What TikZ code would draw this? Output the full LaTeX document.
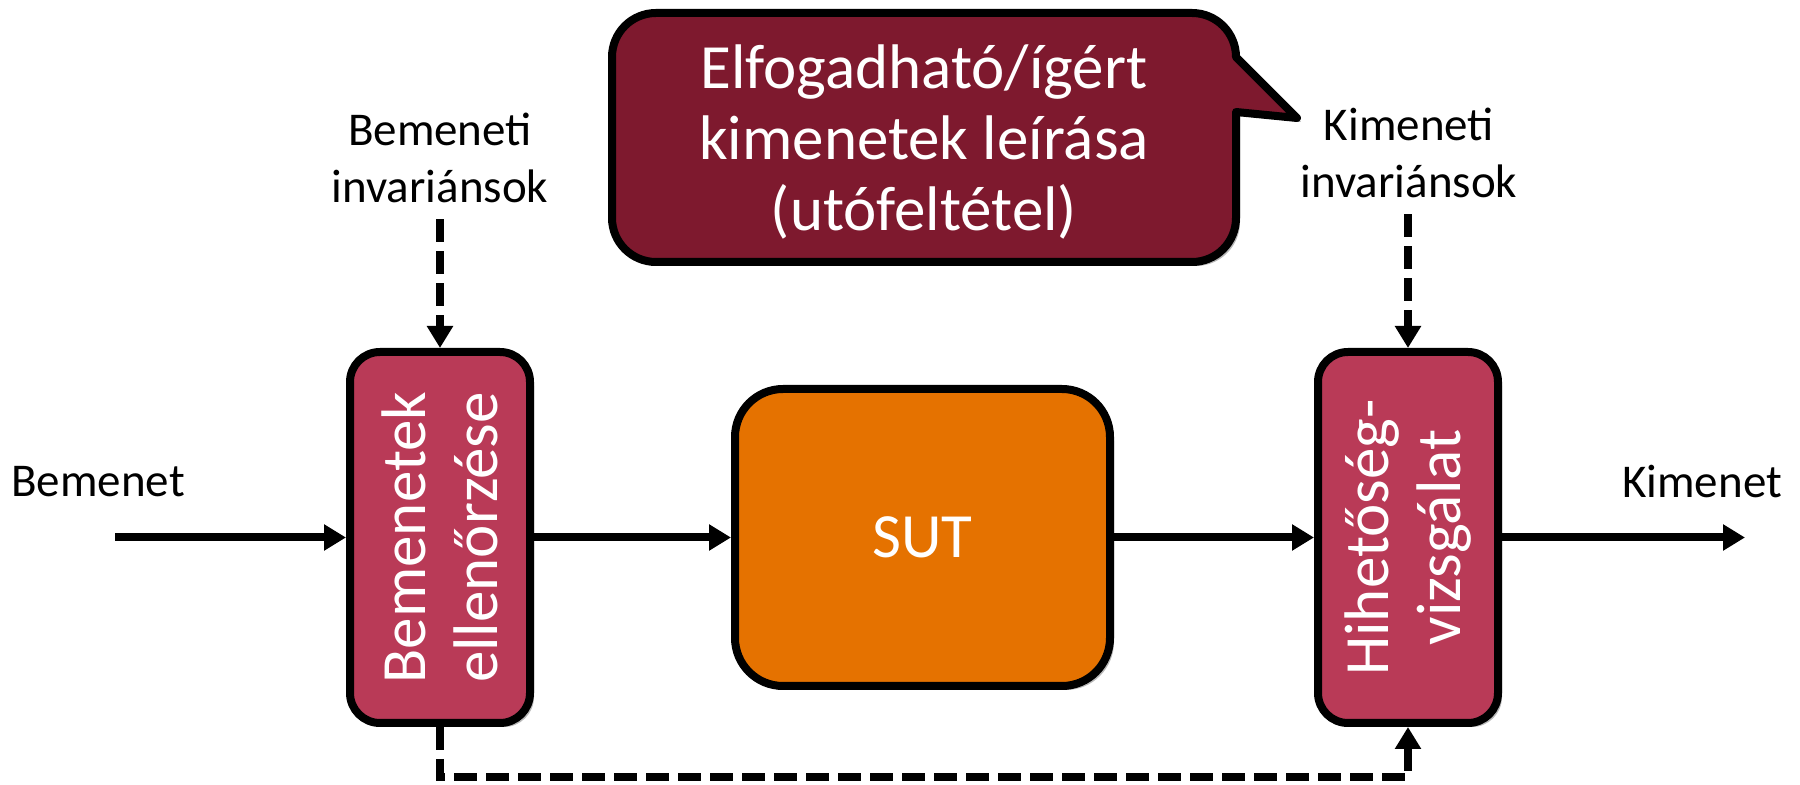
\documentclass[tikz,border=0pt]{standalone}
\usepackage{fontspec}
\setmainfont{Carlito}
\usetikzlibrary{arrows.meta,shadows}
\definecolor{calloutred}{RGB}{126,25,46}
\definecolor{boxred}{RGB}{185,58,87}
\definecolor{sutorange}{RGB}{229,114,0}
\begin{document}
\begin{tikzpicture}[x=0.5pt,y=-0.5pt,
  shad/.style={drop shadow={shadow xshift=2pt,shadow yshift=-2pt,opacity=0.28,fill=black}},
  blockbox/.style={draw=black,line width=4pt,fill=boxred,rounded corners=15pt,
    minimum width=90pt,minimum height=185.5pt,inner sep=0pt,shad},
  sutbox/.style={draw=black,line width=4pt,fill=sutorange,rounded corners=24pt,
    minimum width=187.5pt,minimum height=148.5pt,inner sep=0pt,shad},
  bigtext/.style={text=white,font=\fontsize{31.5pt}{36pt}\selectfont,align=center,inner sep=0pt},
  calltext/.style={text=white,font=\fontsize{31.5pt}{35.5pt}\selectfont,align=center,inner sep=0pt},
  lbl/.style={text=black,font=\fontsize{23.5pt}{28.5pt}\selectfont,align=center,inner sep=0pt},
  arr/.style={line width=4pt,-{Triangle[length=11pt,width=12.5pt]}},
  dasharr/.style={arr,dash pattern=on 11.5pt off 4.5pt}
]
\useasboundingbox (0,0) rectangle (1800,785);

% callout
\path[draw=black,line width=4pt,fill=calloutred,line join=round,shad]
  (656,13) -- (1192,13) arc[start angle=90,end angle=0,radius=22pt]
  -- (1297,118) -- (1236,112) -- (1236,218)
  arc[start angle=0,end angle=-90,radius=22pt] -- (656,262)
  arc[start angle=-90,end angle=-180,radius=22pt] -- (612,57)
  arc[start angle=180,end angle=90,radius=22pt] -- cycle;
\node[calltext] (ctext) at (924,142) {Elfogadható/ígért\\kimenetek leírása\\(utófeltétel)};

% blocks
\node[blockbox] (lbox) at (440,537.5) {};
\node[bigtext,rotate=90] (ltext) at (lbox.center) {Bemenetek\\ellenőrzése};
\node[sutbox] (sut) at (922.5,537.5) {};
\node[bigtext] (suttext) at (sut.center) {SUT};
\node[blockbox] (rbox) at (1408,537.5) {};
\node[bigtext,rotate=90] (rtext) at (rbox.center) {Hihetőség-\\vizsgálat};

% labels
\node[lbl] (bemin) at (440,158) {Bemeneti\\invariánsok};
\node[lbl] (kimin) at (1409,153) {Kimeneti\\invariánsok};
\node[lbl] (bemenet) at (98,482) {Bemenet};
\node[lbl] (kimenet) at (1702,482) {Kimenet};

\coordinate (inS) at (115,537.5);
\coordinate (outE) at (1745,537.5);
\coordinate (botline) at (0,777);

% connectors
\draw[arr] (inS) -- (lbox.west);
\draw[arr] (lbox.east) -- (sut.west);
\draw[arr] (sut.east) -- (rbox.west);
\draw[arr] (rbox.east) -- (outE);
\draw[dasharr,shorten <=8pt] (lbox.north |- bemin.south) -- (lbox.north);
\draw[dasharr,shorten <=8pt] (rbox.north |- kimin.south) -- (rbox.north);
\draw[dasharr] (lbox.south) -- (lbox.south |- botline) -| (rbox.south);
\end{tikzpicture}
\end{document}
